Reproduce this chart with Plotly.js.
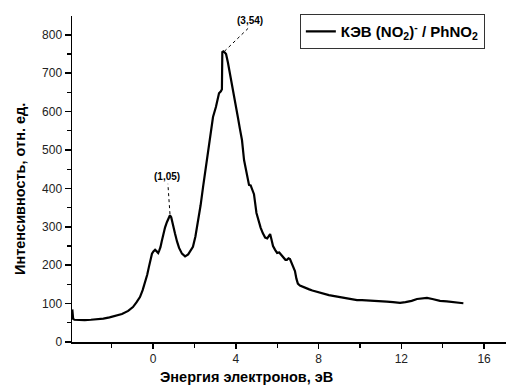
<!DOCTYPE html>
<html>
<head>
<meta charset="utf-8">
<script src="https://cdn.plot.ly/plotly-3.0.1.min.js"></script>
<style>html,body{margin:0;padding:0;background:#fff;}#chart{width:506px;height:388px;}</style>
</head>
<body>
<div id="chart"></div>
<script>
// Energy (eV)
const energy = [-3.9,-3.89,-3.86,-3.8,-3.6,-3.3,-3.0,-2.7,-2.4,-2.1,-1.8,-1.5,-1.2,-0.97,-0.8,-0.63,-0.5,-0.38,-0.28,-0.2,
  -0.12,-0.05,0.02,0.1,0.18,0.25,0.3,0.36,0.42,0.5,0.58,0.67,0.75,0.82,0.88,0.95,1.06,1.16,1.26,1.4,
  1.55,1.7,1.8,1.93,2.05,2.17,2.3,2.42,2.55,2.66,2.78,2.9,3.04,3.12,3.19,3.28,3.33,3.35,3.4,3.47,
  3.53,3.62,3.72,3.8,3.87,3.98,4.1,4.2,4.3,4.4,4.54,4.64,4.72,4.8,4.88,5.0,5.1,5.2,5.31,5.42,
  5.52,5.6,5.66,5.72,5.8,5.9,6.0,6.1,6.2,6.3,6.4,6.47,6.55,6.62,6.7,6.78,6.86,6.93,7.0,7.1,
  7.25,7.4,7.55,7.7,7.93,8.1,8.3,8.5,8.7,8.9,9.1,9.3,9.5,9.7,9.86,10.1,10.3,10.5,10.8,11.0,
  11.3,11.6,11.94,12.2,12.5,12.76,13.0,13.24,13.5,13.87,14.2,14.5,14.8,15.0];
// Intensity (arb. units)
const intensity = [85,70,60,58,57,57,58,59,61,64,68,73,81,91,103,117,135,155,175,195,
  218,230,236,240,236,232,238,247,262,283,298,312,322,330,325,306,283,262,245,230,
  223,228,238,248,275,309,356,404,455,500,545,586,612,630,648,653,658,755,757,754,
  750,728,700,680,656,625,586,555,526,474,440,409,408,398,385,336,315,298,283,272,
  270,276,281,268,250,240,232,233,226,220,214,214,218,216,205,195,185,165,152,147,
  143,140,137,134,130,128,125,122,120,118,116,114,113,111,109,109,108,107,107,106,
  105,104,102,104,107,112,114,115,112,107,106,104,103,101];

const seriesName = '<b>КЭВ (NO<sub>2</sub>)<sup>-</sup> / PhNO<sub>2</sub></b>';
const peakLabels = ['(1,05)', '(3,54)'];

const FONT = 'Liberation Sans, Arial, sans-serif';

const trace = {
  x: energy, y: intensity, type: 'scatter', mode: 'lines',
  name: seriesName,
  line: {color: '#000', width: 2.2}
};

const layout = {
  width: 506, height: 388,
  margin: {l: 72, r: 0, t: 16, b: 46},
  paper_bgcolor: '#fff', plot_bgcolor: '#fff',
  font: {family: FONT, color: '#222', size: 12},
  showlegend: true,
  legend: {
    x: 0.525, y: 1.006, xanchor: 'left', yanchor: 'top',
    bordercolor: '#333', borderwidth: 1, bgcolor: '#fff',
    font: {family: FONT, size: 15, color: '#000'}
  },
  xaxis: {
    range: [-3.915, 17.06], showgrid: false, zeroline: false,
    showline: true, linecolor: '#000', linewidth: 1.5,
    tick0: 0, dtick: 4, ticks: 'outside', ticklen: 5, tickwidth: 1.5, tickcolor: '#000',
    minor: {dtick: 2, tick0: 0, ticks: 'outside', ticklen: 4, tickwidth: 1.2, tickcolor: '#000'},
    tickfont: {size: 12, color: '#222'}
  },
  yaxis: {
    range: [0, 849], showgrid: false, zeroline: false,
    showline: true, linecolor: '#000', linewidth: 1.5,
    tick0: 0, dtick: 100, ticks: 'outside', ticklen: 6, tickwidth: 1.5, tickcolor: '#000',
    minor: {dtick: 50, tick0: 0, ticks: 'outside', ticklen: 4, tickwidth: 1.2, tickcolor: '#000'},
    tickfont: {size: 12, color: '#222'}
  },
  shapes: [
    {type: 'line', xref: 'x', yref: 'y', x0: 0.82, y0: 333, x1: 0.72, y1: 412,
     line: {color: '#000', width: 1, dash: 'dot'}},
    {type: 'line', xref: 'x', yref: 'y', x0: 3.45, y0: 757, x1: 4.62, y1: 818,
     line: {color: '#000', width: 1, dash: 'dot'}}
  ],
  annotations: [
    {x: 0.68, y: 432, xref: 'x', yref: 'y', text: '<b>' + peakLabels[0] + '</b>', showarrow: false,
     font: {size: 10, color: '#000'}},
    {x: 4.69, y: 838, xref: 'x', yref: 'y', text: '<b>' + peakLabels[1] + '</b>', showarrow: false,
     font: {size: 10, color: '#000'}},
    {xref: 'paper', yref: 'paper', x: (246 - 72) / 434, y: -(377 - 342) / 326,
     text: '<b>Энергия электронов, эВ</b>', showarrow: false, xanchor: 'center', yanchor: 'middle',
     font: {size: 14.5, color: '#000'}},
    {xref: 'paper', yref: 'paper', x: -(72 - 20) / 434, y: (342 - 189) / 326,
     text: '<b>Интенсивность, отн. ед.</b>', showarrow: false, textangle: -90,
     xanchor: 'center', yanchor: 'middle', font: {size: 14.5, color: '#000'}}
  ]
};

Plotly.newPlot('chart', [trace], layout, {displayModeBar: false, staticPlot: true});
</script>
</body>
</html>
